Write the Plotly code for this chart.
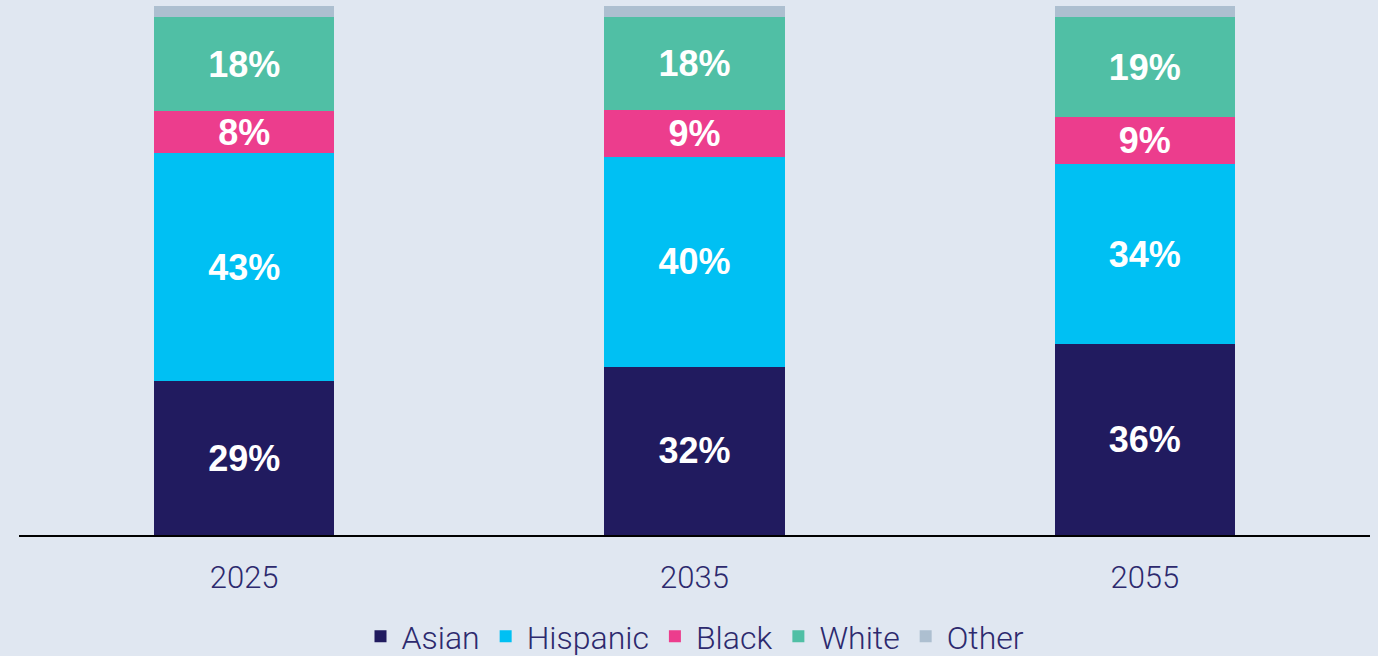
import plotly.graph_objects as go

years = ["2025", "2035", "2055"]
asian = [29.1, 31.8, 36.1]
hispanic = [43.1, 39.7, 34.0]
black = [7.9, 8.9, 8.9]
white = [17.8, 17.6, 18.9]
other = [2.1, 2.0, 2.1]

series = [
    ("Asian", asian, "#211B5F", True),
    ("Hispanic", hispanic, "#00C0F3", True),
    ("Black", black, "#EC3D8D", True),
    ("White", white, "#50BFA5", True),
    ("Other", other, "#ADBFD0", False),
]

fig = go.Figure()
for name, vals, color, show_text in series:
    fig.add_trace(go.Bar(
        name=name,
        x=years,
        y=vals,
        marker=dict(color=color, line=dict(width=0)),
        texttemplate="%{y:.0f}%" if show_text else None,
        textposition="inside" if show_text else "none",
        insidetextanchor="middle",
        textangle=0,
        constraintext="none",
        textfont=dict(family="Liberation Sans, Arial, sans-serif", size=36,
                      color="white", weight="bold"),
        hoverinfo="skip",
    ))

fig.update_layout(
    barmode="stack",
    bargap=0.6,
    width=1378,
    height=656,
    margin=dict(l=19, r=8, t=6, b=121, autoexpand=False),
    paper_bgcolor="#E0E7F1",
    plot_bgcolor="#E0E7F1",
    showlegend=True,
    legend=dict(
        orientation="h",
        x=0.5, xanchor="center",
        y=-0.192, yanchor="middle",
        font=dict(family="Roboto, Liberation Sans, sans-serif", size=32,
                  color="#2D2A6E", weight=300),
        traceorder="normal",
        itemclick=False,
        itemwidth=32,
    ),
    xaxis=dict(
        showline=True, linecolor="black", linewidth=2,
        showgrid=False, zeroline=False, ticks="",
        automargin=False,
        tickfont=dict(family="Roboto, Liberation Sans, sans-serif", size=31,
                      color="#2D2A6E", weight=300),
        ticklabelstandoff=14,
    ),
    yaxis=dict(
        range=[0, 100], visible=False, showgrid=False, zeroline=False,
        automargin=False,
    ),
)

fig.write_html(
    "out.html",
    config={"displayModeBar": False, "staticPlot": True},
    post_script="document.body.style.margin='0';document.body.style.padding='0';",
)
